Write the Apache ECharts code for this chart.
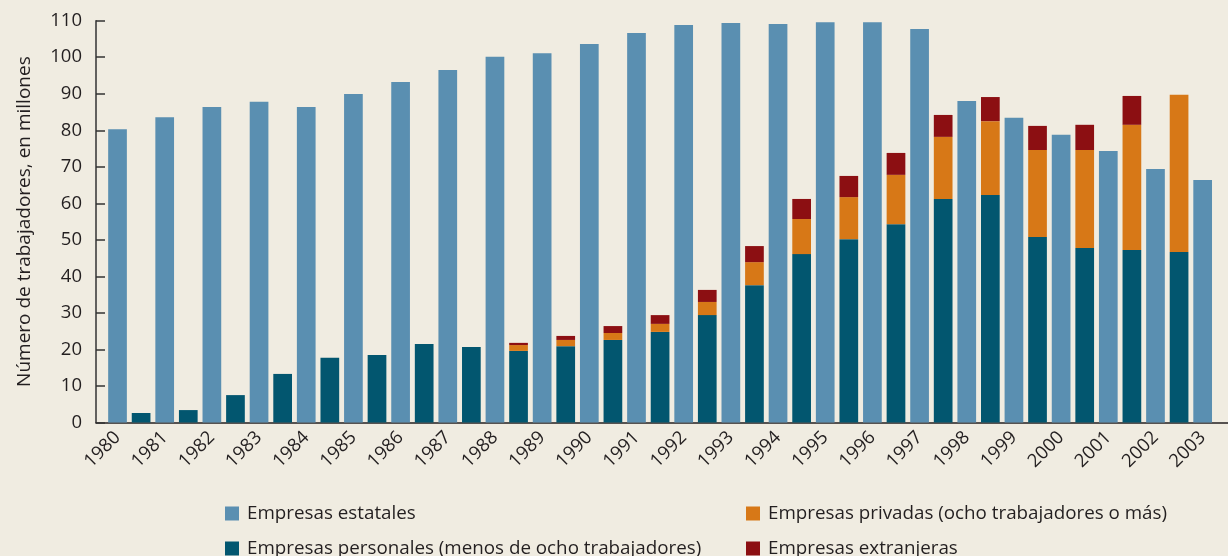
<!DOCTYPE html>
<html>
<head>
<meta charset="utf-8">
<script src="https://cdn.jsdelivr.net/npm/echarts@6/dist/echarts.min.js"></script>
<style>
  html, body { margin: 0; padding: 0; background: #F0ECE1; }
  #chart { width: 1228px; height: 556px; }
</style>
</head>
<body>
<div id="chart"></div>
<script>
// ---- Data (millions of workers) ----
const years = [1980,1981,1982,1983,1984,1985,1986,1987,1988,1989,1990,1991,1992,1993,1994,1995,1996,1997,1998,1999,2000,2001,2002,2003];
const estatales = [80.3,83.6,86.4,87.8,86.4,89.9,93.2,96.5,100.1,101.1,103.6,106.6,108.8,109.4,109.1,109.6,109.6,107.7,88.0,83.4,78.8,74.3,69.4,66.4];
// stacked bars exist for 1981..2003
const stackYears = [1981,1982,1983,1984,1985,1986,1987,1988,1989,1990,1991,1992,1993,1994,1995,1996,1997,1998,1999,2000,2001,2002,2003];
const personales = [2.6,3.4,7.5,13.3,17.7,18.5,21.5,20.7,19.6,20.9,22.6,24.8,29.4,37.6,46.1,50.2,54.3,61.2,62.3,50.8,47.8,47.2,46.7];
const privadas = [null,null,null,null,null,null,null,null,1.6,1.7,1.9,2.2,3.6,6.3,9.6,11.5,13.5,17.0,20.2,23.8,26.8,34.3,43.0];
const extranjeras = [null,null,null,null,null,null,null,null,0.6,1.1,1.9,2.4,3.3,4.4,5.5,5.8,6.0,6.0,6.6,6.6,6.9,7.9,null];
const yTicks = { min: 0, max: 110, interval: 10 };

const names = {
  est: 'Empresas estatales',
  per: 'Empresas personales (menos de ocho trabajadores)',
  pri: 'Empresas privadas (ocho trabajadores o más)',
  ext: 'Empresas extranjeras'
};
const colors = { est: '#5A8FB1', per: '#02566F', pri: '#D77817', ext: '#8C0F12' };

const FONT = '"Open Sans", "Noto Sans", sans-serif';
const TXT = '#231F20';

// rows are [value, xPosition]; the stacked bar sits half a year before the state bar
const rows = (xs, vs, shift) => xs.map((x, i) => [vs[i], x + shift]);

const chart = echarts.init(document.getElementById('chart'), null, { renderer: 'canvas' });

const barBase = { type: 'bar', barWidth: 18.7, barGap: '-100%', encode: { x: 1, y: 0 } };

const legendBase = {
  top: 504, height: 80, orient: 'vertical', padding: 0,
  itemWidth: 14, itemHeight: 14, itemGap: 16,
  icon: 'rect',
  textStyle: { fontSize: 18.8, fontFamily: FONT, color: TXT, lineHeight: 18, padding: [0, 0, 0, 3] }
};

chart.setOption({
  backgroundColor: '#F0ECE1',
  animation: false,
  textStyle: { fontFamily: FONT, color: TXT },
  grid: { left: 96, right: 0, top: 20.7, bottom: 133.5 },
  xAxis: {
    type: 'value',
    min: 1979.544,
    max: 2003.537,
    splitLine: { show: false },
    axisTick: { show: false },
    axisLine: { show: true, lineStyle: { color: TXT, width: 1.6 } },
    axisLabel: {
      customValues: years,
      rotate: 45,
      margin: 12,
      fontSize: 18.5,
      fontFamily: FONT,
      color: TXT,
      formatter: v => String(Math.round(v))
    }
  },
  yAxis: {
    type: 'value',
    min: yTicks.min,
    max: yTicks.max,
    interval: yTicks.interval,
    name: 'Número de trabajadores, en millones',
    nameLocation: 'middle',
    nameRotate: 90,
    nameGap: 62,
    nameTextStyle: { fontSize: 19, fontFamily: FONT, color: TXT },
    splitLine: { show: false },
    axisLine: { show: true, lineStyle: { color: '#333333', width: 1.5 } },
    axisTick: { show: true, inside: true, length: 9, lineStyle: { color: '#333333', width: 1.5 } },
    axisLabel: { margin: 14, fontSize: 18.5, fontFamily: FONT, color: TXT }
  },
  legend: [
    Object.assign({}, legendBase, { left: 225, data: [names.est, names.per] }),
    Object.assign({}, legendBase, { left: 746, data: [names.pri, names.ext] })
  ],
  series: [
    Object.assign({}, barBase, {
      name: names.est, itemStyle: { color: colors.est },
      data: rows(years, estatales, 0)
    }),
    Object.assign({}, barBase, {
      name: names.per, stack: 'mix', itemStyle: { color: colors.per },
      data: rows(stackYears, personales, -0.5)
    }),
    Object.assign({}, barBase, {
      name: names.pri, stack: 'mix', itemStyle: { color: colors.pri },
      data: rows(stackYears, privadas, -0.5)
    }),
    Object.assign({}, barBase, {
      name: names.ext, stack: 'mix', itemStyle: { color: colors.ext },
      data: rows(stackYears, extranjeras, -0.5)
    })
  ]
});
</script>
</body>
</html>
